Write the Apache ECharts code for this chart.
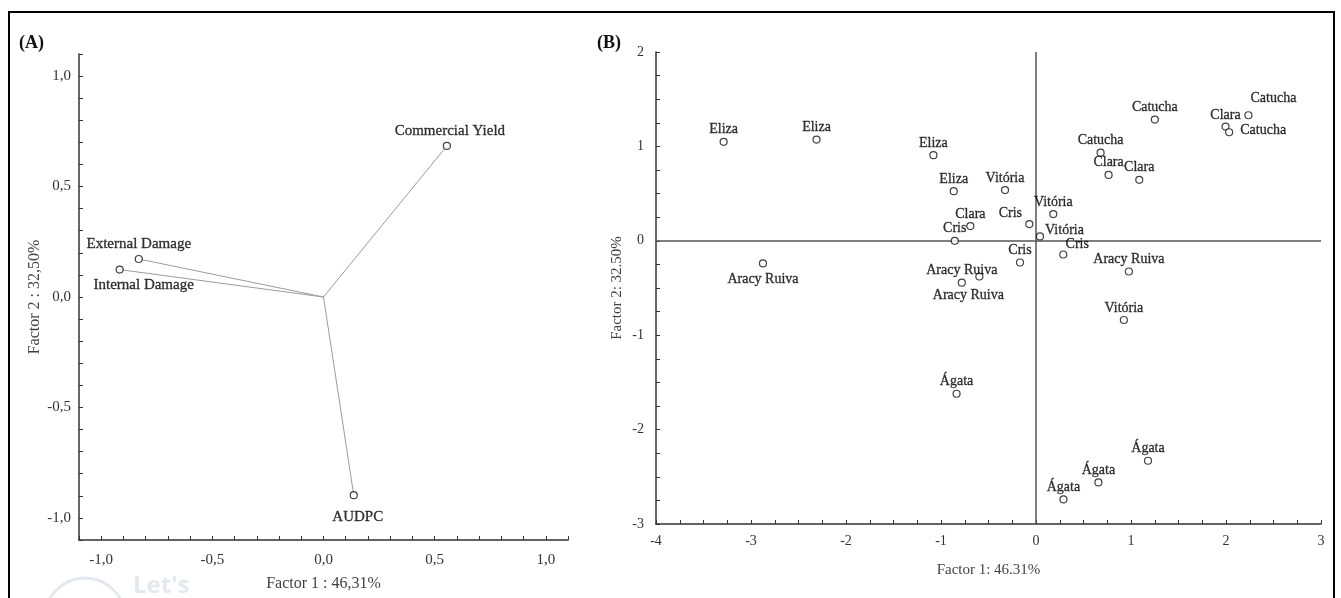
<!DOCTYPE html>
<html><head><meta charset="utf-8">
<script src="https://cdn.jsdelivr.net/npm/echarts@6/dist/echarts.min.js"></script>
<style>html,body{margin:0;padding:0;background:#fff}#c{width:1341px;height:598px}</style>
</head><body><div id="c"></div>
<script>
// ---- Panel A: variable loadings ----
const varNames = ['Commercial Yield', 'External Damage', 'Internal Damage', 'AUDPC'];
const varF1 = [0.555, -0.831, -0.917, 0.136];
const varF2 = [0.684, 0.172, 0.124, -0.897];
const ticksA = [-1.0, -0.5, 0.0, 0.5, 1.0];

// ---- Panel B: cultivar scores ----
const cultNames = ['Eliza','Eliza','Eliza','Eliza','Vitória','Clara','Cris','Cris','Cris','Vitória','Vitória','Cris',
  'Aracy Ruiva','Aracy Ruiva','Aracy Ruiva','Catucha','Clara','Clara','Catucha','Catucha','Clara','Catucha',
  'Aracy Ruiva','Vitória','Ágata','Ágata','Ágata','Ágata'];
const cultF1 = [-3.288,-2.310,-1.080,-0.866,-0.326,-0.691,-0.855,-0.070,-0.168,0.042,0.182,0.287,
  -2.874,-0.781,-0.596,0.680,0.764,1.087,1.251,2.236,1.995,2.033,
  0.978,0.925,-0.836,1.179,0.657,0.289];
const cultF2 = [1.048,1.072,0.907,0.526,0.537,0.156,0.000,0.177,-0.230,0.046,0.283,-0.145,
  -0.240,-0.444,-0.378,0.934,0.698,0.646,1.284,1.330,1.210,1.150,
  -0.325,-0.839,-1.62,-2.33,-2.56,-2.74];
const ticksB_x = [-4,-3,-2,-1,0,1,2,3];
const ticksB_y = [-3,-2,-1,0,1,2];

// ---- label placements (style only) ----
const varLabelPlace = [['top',3,-2],['top',0,-2],['bottom',24,3],['bottom',4,9]];
const cultLabelPlace = [
  ['top',0,0],['top',0,0],['top',0,0],['top',0,0],['top',0,0],['top',0,0],['top',0,0],
  ['top',-19,1],['top',0,0],['right',0,-6],['top',0,0],['top',14,2],
  ['bottom',0,4],['top',0,0],['bottom',-11,7],
  ['top',0,0],['top',0,0],['top',0,0],['top',0,0],['top',25,-5],['top',0,1],['right',6,-1.5],
  ['top',0,0],['top',0,0],['top',0,0],['top',0,0],['top',0,0],['top',0,0]
];

const SERIF = 'Liberation Serif';
const minorA = [];
for (let i = -11; i <= 11; i++) minorA.push(i / 10);

function axisCommon(labelSize, nameSize) {
  return {
    type: 'value',
    axisLine: { show: true, onZero: false, lineStyle: { color: '#333', width: 1.5 } },
    axisTick: { show: true, inside: true, length: 4, lineStyle: { color: '#333', width: 1 } },
    splitLine: { show: false },
    axisLabel: { color: '#333', fontFamily: SERIF, fontSize: labelSize },
    nameLocation: 'middle',
    nameTextStyle: { color: '#444', fontFamily: SERIF, fontSize: nameSize }
  };
}
const fmtComma = v => v.toFixed(1).replace('.', ',');

const xA = Object.assign(axisCommon(15, 16), {
  gridIndex: 0, min: -1.1, max: 1.1,
  name: 'Factor 1 : 46,31%', nameGap: 36
});
xA.axisTick.customValues = minorA;
xA.axisLabel = Object.assign(xA.axisLabel, { customValues: ticksA, formatter: fmtComma, margin: 13 });

const yA = Object.assign(axisCommon(15, 16), {
  gridIndex: 0, min: -1.1, max: 1.1,
  name: 'Factor 2 : 32,50%', nameGap: 36
});
yA.axisTick.customValues = minorA;
yA.axisLabel = Object.assign(yA.axisLabel, { customValues: ticksA, formatter: fmtComma, margin: 8 });

const xB = Object.assign(axisCommon(14, 15), {
  gridIndex: 1, min: ticksB_x[0], max: ticksB_x[ticksB_x.length - 1], interval: 1,
  name: 'Factor 1: 46.31%', nameGap: 39,
  minorTick: { show: true, splitNumber: 4, length: 4, lineStyle: { color: '#333' } }
});
xB.axisLabel.margin = 10;
const yB = Object.assign(axisCommon(14, 15), {
  gridIndex: 1, min: ticksB_y[0], max: ticksB_y[ticksB_y.length - 1], interval: 1,
  name: 'Factor 2: 32.50%', nameGap: 31,
  minorTick: { show: true, splitNumber: 4, length: 4, lineStyle: { color: '#333' } }
});
yB.axisLabel.margin = 12;

const series = [];
varNames.forEach((n, i) => {
  series.push({
    type: 'line', xAxisIndex: 0, yAxisIndex: 0, silent: true,
    data: [[0, 0], [varF1[i], varF2[i]]],
    symbol: 'none', lineStyle: { color: '#9c9c9c', width: 1 }
  });
});
const pointStyle = { color: '#fff', borderColor: '#111', borderWidth: 1.2 };
const labelBase = { show: true, formatter: '{b}', distance: 1, color: '#000', fontFamily: SERIF,
  textBorderColor: '#000', textBorderWidth: 0.3 };
series.push({
  type: 'scatter', xAxisIndex: 0, yAxisIndex: 0, symbol: 'circle', symbolSize: 7,
  itemStyle: pointStyle, z: 5,
  data: varNames.map((n, i) => ({
    name: n, value: [varF1[i], varF2[i]],
    label: { position: varLabelPlace[i][0], offset: [varLabelPlace[i][1], varLabelPlace[i][2]] }
  })),
  label: Object.assign({}, labelBase, { fontSize: 15 })
});
series.push({
  type: 'scatter', xAxisIndex: 1, yAxisIndex: 1, symbol: 'circle', symbolSize: 7,
  itemStyle: pointStyle, z: 5,
  data: cultNames.map((n, i) => ({
    name: n, value: [cultF1[i], cultF2[i]],
    label: { position: cultLabelPlace[i][0], offset: [cultLabelPlace[i][1], cultLabelPlace[i][2]] }
  })),
  label: Object.assign({}, labelBase, { fontSize: 14 }),
  markLine: {
    silent: true, symbol: ['none', 'none'], label: { show: false },
    lineStyle: { color: '#555', width: 1.5, type: 'solid' },
    data: [{ xAxis: 0 }, { yAxis: 0 }]
  }
});

const chart = echarts.init(document.getElementById('c'), null, { renderer: 'canvas' });
chart.setOption({
  animation: false,
  backgroundColor: '#fff',
  grid: [
    { left: 79, right: 773, top: 54, bottom: 58 },
    { left: 656, right: 20, top: 52, bottom: 74 }
  ],
  xAxis: [xA, xB],
  yAxis: [yA, yB],
  series: series,
  graphic: [
    { type: 'rect', shape: { x: 9, y: 12, width: 1325, height: 600 }, style: { fill: 'none', stroke: '#000', lineWidth: 2 }, silent: true },
    { type: 'text', left: 19, top: 34, style: { text: '(A)', font: 'bold 18px "Liberation Serif"', fill: '#111' } },
    { type: 'text', left: 597, top: 34, style: { text: '(B)', font: 'bold 18px "Liberation Serif"', fill: '#111' } },
    { type: 'circle', shape: { cx: 85, cy: 618, r: 40 }, style: { fill: 'none', stroke: '#e3e9f0', lineWidth: 3 }, silent: true, z: -1 },
    { type: 'text', left: 133, top: 574, style: { text: "Let's", font: 'bold 24px "Open Sans"', fill: '#e3e9f0' }, silent: true, z: -1 }
  ]
});
</script>
</body></html>
